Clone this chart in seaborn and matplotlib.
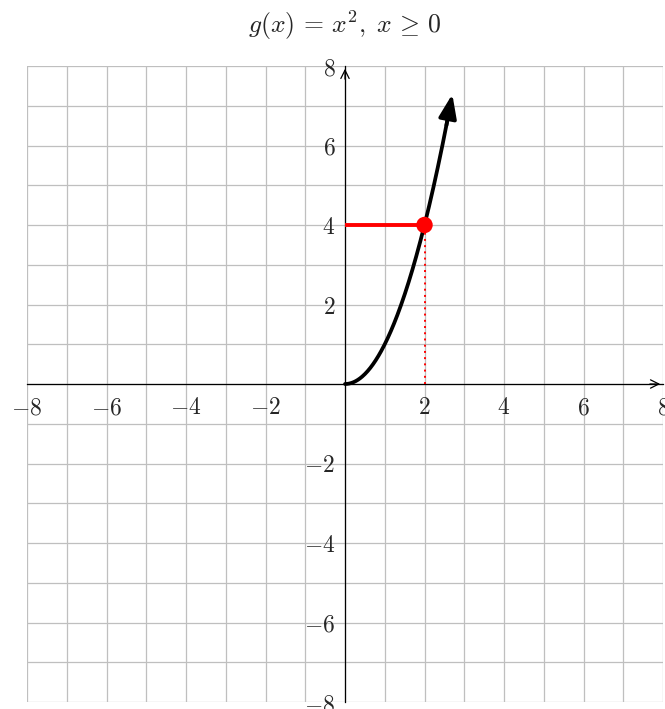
import numpy as np
import pandas as pd
import matplotlib
matplotlib.use("Agg")
import matplotlib.pyplot as plt
import seaborn as sns

# Function g(x) = x^2 drawn on x >= 0
x_start, x_end = 0.0, 2.7
point_x = [2.0]
point_y = [4.0]
tick_values = [-8, -6, -4, -2, 2, 4, 6, 8]
axis_limits = (-8, 8)

sns.set_theme(style="white")
plt.rcParams["mathtext.fontset"] = "cm"
plt.rcParams["font.family"] = ["DejaVu Serif"]

xs = np.linspace(x_start, x_end, 200)
curve = pd.DataFrame({"x": xs, "y": xs ** 2})

fig = plt.figure(figsize=(6.65, 7.09), dpi=100)
ax = fig.add_axes([27 / 665, 7 / 709, 636 / 665, 636 / 709])

ax.set_xlim(*axis_limits)
ax.set_ylim(*axis_limits)

# grid every unit
ax.set_xticks(tick_values)
ax.set_yticks(tick_values)
ax.set_xticks(range(-8, 9), minor=True)
ax.set_yticks(range(-8, 9), minor=True)
ax.grid(True, which="both", color="#bfbfbf", linewidth=0.9)
ax.set_axisbelow(True)

# axes through the origin
for side in ["top", "right"]:
    ax.spines[side].set_visible(False)
for side in ["left", "bottom"]:
    ax.spines[side].set_position("zero")
    ax.spines[side].set_color("black")
    ax.spines[side].set_linewidth(0.9)
    ax.spines[side].set_zorder(2)

ax.set_xticklabels([rf"${v}$" if v > 0 else rf"$-{abs(v)}$" for v in tick_values], fontsize=17)
ax.set_yticklabels([rf"${v}$" if v > 0 else rf"$-{abs(v)}$" for v in tick_values], fontsize=17)
ax.tick_params(which="both", direction="inout", length=6, width=0.8, color="#333333")
ax.tick_params(axis="x", pad=6)
ax.tick_params(axis="y", pad=4)

# axis arrowheads
ax.annotate("", xy=(8, 0), xytext=(7.6, 0),
            arrowprops=dict(arrowstyle="->,head_length=0.5,head_width=0.25", color="black", lw=0.9),
            annotation_clip=False)
ax.annotate("", xy=(0, 8), xytext=(0, 7.6),
            arrowprops=dict(arrowstyle="->,head_length=0.5,head_width=0.25", color="black", lw=0.9),
            annotation_clip=False)

# the curve with an arrow at its end
sns.lineplot(data=curve.iloc[:-8], x="x", y="y", ax=ax, color="black", linewidth=2.7,
             sort=False, zorder=4)
ax.annotate("", xy=(curve.x.iloc[-1], curve.y.iloc[-1]),
            xytext=(curve.x.iloc[-12], curve.y.iloc[-12]),
            arrowprops=dict(arrowstyle="-|>,head_length=1.2,head_width=0.45",
                        color="black", lw=2.7, shrinkA=0, shrinkB=0), zorder=4)

# marked point with its guides
ax.plot([0, point_x[0]], [point_y[0], point_y[0]], color="red", linewidth=2.8, zorder=5,
        solid_capstyle="butt")
ax.plot([point_x[0], point_x[0]], [0, point_y[0]], color="red", linewidth=1.4,
        linestyle=(0, (1, 2.2)), zorder=5)
sns.scatterplot(x=point_x, y=point_y, ax=ax, color="red", s=140, edgecolor="none", zorder=6)

ax.set_xlabel("")
ax.set_ylabel("")
ax.set_title(r"$g(x)\,=\,x^2,\;x\,\geq\,0$", fontsize=18.5, pad=24)

fig.savefig("out.png", dpi=100)
